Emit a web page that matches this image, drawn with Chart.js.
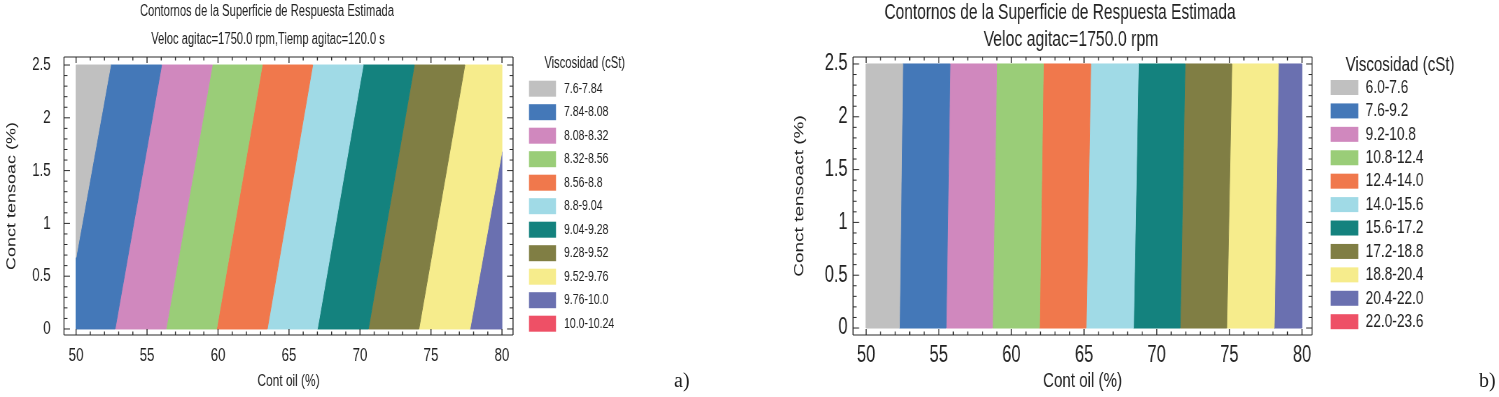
<!DOCTYPE html>
<html>
<head>
<meta charset="utf-8">
<script src="https://cdn.jsdelivr.net/npm/chart.js@4/dist/chart.umd.min.js"></script>
<style>
  body { margin: 0; background: #fff; width: 1499px; height: 397px; overflow: hidden; position: relative; }
  .wrap { position: absolute; top: 0; height: 397px; transform-origin: 0 0; }
  .tag { position: absolute; top: 369px; font: 20px 'Liberation Serif', 'DejaVu Serif', serif; color: #222; }
</style>
</head>
<body>
<div id="wrapA" class="wrap" style="left:0; width:1000px; transform:scaleX(0.7)"><canvas id="chartA"></canvas></div>
<div id="wrapB" class="wrap" style="left:750px; width:1040px; transform:scaleX(0.72)"><canvas id="chartB"></canvas></div>
<div class="tag" style="left:674px">a)</div>
<div class="tag" style="left:1479px">b)</div>
<script>
// textos
const titleText = "Contornos de la Superficie de Respuesta Estimada";
const subtitleA = "Veloc agitac=1750.0 rpm,Tiemp agitac=120.0 s";
const subtitleB = "Veloc agitac=1750.0 rpm";
const legendTitle = "Viscosidad (cSt)";
const xLabel = "Cont oil (%)";
const yLabelA = "Conct tensoac (%)";
const yLabelB = "Conct tensoact (%)";

// rangos de viscosidad (leyenda)
const rangesA = ["7.6-7.84", "7.84-8.08", "8.08-8.32", "8.32-8.56", "8.56-8.8", "8.8-9.04",
  "9.04-9.28", "9.28-9.52", "9.52-9.76", "9.76-10.0", "10.0-10.24"];
const rangesB = ["6.0-7.6", "7.6-9.2", "9.2-10.8", "10.8-12.4", "12.4-14.0", "14.0-15.6",
  "15.6-17.2", "17.2-18.8", "18.8-20.4", "20.4-22.0", "22.0-23.6"];
const bandColors = ["#c0c0c0", "#4478b8", "#d088be", "#9acd78", "#f0784c", "#a0dae6",
  "#14827e", "#807e44", "#f6ec8c", "#6a70b0", "#ee5066"];

// contornos: Cont oil donde cambia de banda, en tensoac=0 y tensoac=2.5
const edgeBottomA = [49.09, 52.75, 56.34, 59.9, 63.47, 67.0, 70.59, 74.15, 77.75];
const edgeTopA = [52.44, 56.03, 59.6, 63.12, 66.67, 70.23, 73.83, 77.39, 81.1];
const edgeBottomB = [52.29, 55.5, 58.69, 61.93, 65.14, 68.4, 71.61, 74.82, 78.08];
const edgeTopB = [52.52, 55.78, 58.99, 62.2, 65.46, 68.74, 71.95, 75.17, 78.38];

// dominio y ticks
const xLo = 50, xHi = 80, yLo = 0, yHi = 2.5;
const xTicks = [50, 55, 60, 65, 70, 75, 80];
const yTicks = [0, 0.5, 1, 1.5, 2, 2.5];
const xMinorStep = 1, yMinorStep = 0.1;

const FONT = "'Liberation Sans', Arial, sans-serif";
const INK = "#222";

function clipEdge(pts, inside, xc) {
  const out = [];
  pts.forEach((p, i) => {
    const q = pts[(i + 1) % pts.length];
    if (inside(p)) out.push(p);
    if (inside(p) !== inside(q)) {
      out.push({ x: xc, y: p.y + (q.y - p.y) * (xc - p.x) / (q.x - p.x) });
    }
  });
  return out;
}

function bandPolygons(bottom, top) {
  const leftB = [xLo - 10].concat(bottom), leftT = [xLo - 10].concat(top);
  const rightB = bottom.concat([xHi + 10]), rightT = top.concat([xHi + 10]);
  return rightB.map((_, k) => {
    let poly = [
      { x: leftB[k], y: yLo }, { x: rightB[k], y: yLo },
      { x: rightT[k], y: yHi }, { x: leftT[k], y: yHi }
    ];
    poly = clipEdge(poly, p => p.x >= xLo, xLo);
    poly = clipEdge(poly, p => p.x <= xHi, xHi);
    if (poly.length) poly.push(poly[0]);
    return poly;
  });
}

const decoPlugin = {
  id: "deco",
  afterDatasetsDraw(chart, args, o) {
    const { ctx, chartArea: a, scales: { x, y } } = chart;
    ctx.save();
    ctx.strokeStyle = "#2a2a2a";
    // marco
    ctx.lineWidth = 1;
    ctx.beginPath();
    ctx.moveTo(a.left, a.top); ctx.lineTo(a.right, a.top);
    ctx.moveTo(a.left, a.bottom); ctx.lineTo(a.right, a.bottom);
    ctx.stroke();
    ctx.lineWidth = 1 / o.squeeze;
    ctx.beginPath();
    ctx.moveTo(a.left, a.top); ctx.lineTo(a.left, a.bottom);
    ctx.moveTo(a.right, a.top); ctx.lineTo(a.right, a.bottom);
    ctx.stroke();
    // ticks hacia dentro
    ctx.beginPath();
    for (let v = xLo; v <= xHi + 1e-9; v += xMinorStep) {
      const px = x.getPixelForValue(v);
      const len = xTicks.includes(Math.round(v)) ? 6 : 3.5;
      ctx.moveTo(px, a.bottom); ctx.lineTo(px, a.bottom - len);
      ctx.moveTo(px, a.top); ctx.lineTo(px, a.top + len);
    }
    ctx.stroke();
    ctx.lineWidth = 1;
    ctx.beginPath();
    for (let i = 0; i <= Math.round((yHi - yLo) / yMinorStep); i++) {
      const v = yLo + i * yMinorStep;
      const py = y.getPixelForValue(v);
      const len = (i % 5 === 0 ? 6 : 3.5) / o.squeeze;
      ctx.moveTo(a.left, py); ctx.lineTo(a.left + len, py);
      ctx.moveTo(a.right, py); ctx.lineTo(a.right - len, py);
    }
    ctx.stroke();

    // titulos
    ctx.fillStyle = INK;
    ctx.textAlign = "center";
    ctx.textBaseline = "middle";
    ctx.font = `${o.title.size}px ${FONT}`;
    ctx.fillText(titleText, o.title.x, o.title.y);
    ctx.font = `${o.sub.size}px ${FONT}`;
    ctx.fillText(o.sub.text, o.sub.x, o.sub.y);

    // leyenda
    const L = o.legend;
    ctx.font = `${L.titleSize}px ${FONT}`;
    ctx.fillText(legendTitle, L.titleX, L.titleY);
    ctx.textAlign = "left";
    ctx.font = `${L.size}px ${FONT}`;
    chart.data.datasets.forEach((d, i) => {
      const cy = L.top + i * L.step;
      ctx.fillStyle = d.backgroundColor;
      ctx.fillRect(L.swatchX, cy - L.swatchH / 2, L.swatchW, L.swatchH);
      ctx.fillStyle = INK;
      ctx.fillText(d.label, L.textX, cy);
    });
    ctx.restore();
  }
};

function makeChart(id, ranges, bottom, top, yLabel, lay) {
  const polys = bandPolygons(bottom, top);
  const datasets = ranges.map((label, k) => ({
    label: label,
    data: polys[k] || [],
    showLine: true,
    pointRadius: 0,
    borderWidth: 1,
    borderColor: bandColors[k],
    backgroundColor: bandColors[k],
    fill: "shape",
    tension: 0
  }));

  return new Chart(document.getElementById(id), {
    type: "scatter",
    data: { datasets: datasets },
    options: {
      responsive: true,
      maintainAspectRatio: false,
      animation: false,
      events: [],
      layout: { padding: { top: lay.padTop, right: lay.padRight, left: 0, bottom: 0 } },
      plugins: {
        legend: { display: false },
        tooltip: { enabled: false },
        deco: lay
      },
      scales: {
        x: {
          type: "linear",
          min: lay.xMin,
          max: lay.xMax,
          afterFit: s => { s.height = lay.xAxisH; },
          afterBuildTicks: s => { s.ticks = xTicks.map(v => ({ value: v })); },
          grid: { display: false, drawTicks: false, tickLength: 0 },
          border: { display: false },
          ticks: { color: INK, font: { family: FONT, size: lay.tickSize }, padding: lay.xTickPad,
                   maxRotation: 0, autoSkip: false, callback: v => String(v) },
          title: { display: true, text: xLabel, color: INK, font: { family: FONT, size: lay.xTitleSize }, padding: { top: 0, bottom: lay.xTitlePad } }
        },
        y: {
          type: "linear",
          min: lay.yMin,
          max: lay.yMax,
          afterFit: s => { s.width = lay.yAxisW; },
          afterBuildTicks: s => { s.ticks = yTicks.map(v => ({ value: v })); },
          grid: { display: false, drawTicks: false, tickLength: 0 },
          border: { display: false },
          ticks: { color: INK, font: { family: FONT, size: lay.tickSize }, padding: lay.yTickPad,
                   callback: v => String(v) },
          title: { display: true, text: yLabel, color: INK, font: { family: FONT, size: lay.yTitleSize }, padding: { top: lay.yTitlePad, bottom: 0 } }
        }
      }
    },
    plugins: [decoPlugin]
  });
}

makeChart("chartA", rangesA, edgeBottomA, edgeTopA, yLabelA, {
  squeeze: 0.7, padTop: 57, padRight: 267.1, yAxisW: 91.4, xAxisH: 62,
  xMin: 49.15, xMax: 80.78, yMin: -0.057, yMax: 2.576,
  tickSize: 19, xTickPad: 9.6, yTickPad: 19,
  xTitleSize: 17, xTitlePad: 5.8, yTitleSize: 18, yTitlePad: 6.3,
  title: { x: 381.4, y: 12, size: 16 },
  sub: { text: subtitleA, x: 382.9, y: 40, size: 16 },
  legend: { titleX: 835.3, titleY: 64, titleSize: 16, swatchX: 755.7, swatchW: 38.6, swatchH: 16,
            top: 88.7, step: 23.5, textX: 805.7, size: 15 }
});

makeChart("chartB", rangesB, edgeBottomB, edgeTopB, yLabelB, {
  squeeze: 0.72, padTop: 57, padRight: 259.4, yAxisW: 143.1, xAxisH: 62,
  xMin: 49.10, xMax: 80.69, yMin: -0.066, yMax: 2.566,
  tickSize: 23, xTickPad: 7.2, yTickPad: 7.5,
  xTitleSize: 21, xTitlePad: 3.4, yTitleSize: 19, yTitlePad: 57.3,
  title: { x: 430.6, y: 13, size: 21.5 },
  sub: { text: subtitleB, x: 445.8, y: 40, size: 22 },
  legend: { titleX: 902.8, titleY: 65, titleSize: 21, swatchX: 806.5, swatchW: 38.4, swatchH: 15,
            top: 87.5, step: 23.42, textX: 855.1, size: 19 }
});
</script>
</body>
</html>
